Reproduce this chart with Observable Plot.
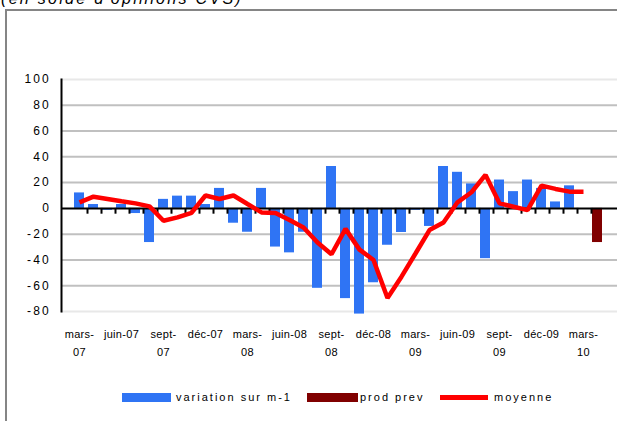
<!DOCTYPE html>
<html><head><meta charset="utf-8">
<script src="https://cdn.jsdelivr.net/npm/d3@7"></script>
<script src="https://cdn.jsdelivr.net/npm/@observablehq/plot@0.6"></script>
<style>
html,body{margin:0;padding:0;background:#fff;overflow:hidden;width:617px;height:421px;}
body{position:relative;font-family:"Liberation Sans",Arial,sans-serif;}
#title{position:absolute;left:1px;top:-10px;font-size:16px;font-style:italic;letter-spacing:2.3px;white-space:nowrap;color:#000;}
#frame{position:absolute;left:5px;top:9px;width:800px;height:600px;border:2px solid #858585;box-sizing:border-box;}
#chart{position:absolute;left:0;top:0;}
.sw{position:absolute;}
.lb{position:absolute;top:390px;height:14px;line-height:14px;font-size:11px;letter-spacing:2px;white-space:nowrap;color:#000;}
</style>
</head><body>
<div id="title">(en solde d'opinions CVS)</div>
<div id="frame"></div>
<div id="chart"></div>
<div class="sw" style="left:122px;top:393px;width:49px;height:9px;background:#2f74f4"></div>
<div class="lb" style="left:176px">variation sur m-1</div>
<div class="sw" style="left:307px;top:393px;width:51px;height:9px;background:#800000"></div>
<div class="lb" style="left:360px">prod prev</div>
<div class="sw" style="left:440px;top:395px;width:48px;height:5px;background:#ff0000"></div>
<div class="lb" style="left:494px">moyenne</div>
<script>
const months = ["mars-07","avr-07","mai-07","juin-07","juil-07","août-07","sept-07","oct-07","nov-07","déc-07",
  "janv-08","févr-08","mars-08","avr-08","mai-08","juin-08","juil-08","août-08","sept-08","oct-08","nov-08","déc-08",
  "janv-09","févr-09","mars-09","avr-09","mai-09","juin-09","juil-09","août-09","sept-09","oct-09","nov-09","déc-09",
  "janv-10","févr-10","mars-10","avr-10"];
const variation = [12, 3, -1.5, 3, -4, -26.5, 7, 9.5, 9.5, 3,
  15.5, -11.5, -18.5, 15.5, -30, -34.5, -18.5, -62, 32.5, -70, -82, -57.7,
  -28.6, -18.7, -1.5, -14, 32.5, 28, 19, -39, 22, 13, 22, 15.5,
  5, 17.5, null, null];
const prodPrev = [null, null, null, null, null, null, null, null, null, null,
  null, null, null, null, null, null, null, null, null, null, null, null,
  null, null, null, null, null, null, null, null, null, null, null, null,
  null, null, null, -26.5];
const moyenne = [4.7, 9.1, 7.3, 5.5, 3.9, 1.6, -9.6, -7, -3.4, 10,
  7.3, 10, 3.4, -3.1, -3.6, -9, -14.8, -26.5, -35.6, -15.9, -32, -40,
  -69.5, -53, -35, -16.8, -10.9, 4.7, 12.5, 26, 3.9, 1.3, -1.3, 17.7,
  15.1, 13, 13, null];
const yTicks = [100, 80, 60, 40, 20, 0, -20, -40, -60, -80];
const gridDark = [80, 60, 40, 20, -20, -40, -60];
const gridLight = [100, -80];
const xTickMonths = ["mars-07","juin-07","sept-07","déc-07","mars-08","juin-08","sept-08","déc-08","mars-09","juin-09","sept-09","déc-09","mars-10"];
const xTickLabels = ["mars-\n07","juin-07","sept-\n07","déc-07","mars-\n08","juin-08","sept-\n08","déc-08","mars-\n09","juin-09","sept-\n09","déc-09","mars-\n10"];

const rows = months.map((m, i) => ({month: m, variation: variation[i], prod: prodPrev[i], moyenne: moyenne[i]}));
const labels = xTickMonths.map((m, i) => ({month: m, label: xTickLabels[i]}));

const chart = Plot.plot({
  width: 617, height: 370,
  marginLeft: 61, marginRight: 0, marginTop: 79, marginBottom: 59,
  style: {fontFamily: "Liberation Sans, Arial, sans-serif", fontSize: "11px", background: "transparent", overflow: "visible", color: "#000"},
  x: {type: "band", domain: months, range: [61, 614], paddingInner: 0.31, paddingOuter: 0.155, axis: null},
  y: {domain: [-80, 100], axis: null},
  marks: [
    Plot.ruleY(gridLight, {y: d => d, stroke: "#e8e8e8", strokeWidth: 2}),
    Plot.ruleY(gridDark, {y: d => d, stroke: "#c0c0c0", strokeWidth: 2}),
    Plot.barY(rows.filter(d => d.variation != null), {x: "month", y: "variation", fill: "#2f74f4"}),
    Plot.barY(rows.filter(d => d.prod != null), {x: "month", y: "prod", fill: "#800000"}),
    Plot.ruleY([0], {stroke: "#000", strokeWidth: 2}),
    Plot.ruleX(months.slice(0, 37), {x: d => d, y1: 0, y2: -4.5, dx: 8, stroke: "#000", strokeWidth: 2}),
    Plot.lineY(rows.filter(d => d.moyenne != null), {x: "month", y: "moyenne", stroke: "#ff0000", strokeWidth: 4.5, strokeLinejoin: "miter", strokeLinecap: "butt"}),
    Plot.frame({anchor: "left", stroke: "#000", strokeWidth: 2}),
    Plot.tickY(yTicks, {y: d => d, x: months[0], stroke: "#000", strokeWidth: 2, insetRight: 4, dx: -8.3}),
    Plot.text(yTicks, {y: d => d, text: d => String(d), frameAnchor: "left", textAnchor: "end", dx: -10.5, fontSize: 12, fill: "#000"}),
    Plot.text(labels, {x: "month", text: "label", frameAnchor: "bottom", lineAnchor: "top", dy: 14, lineHeight: 1.62, fontSize: 11, fill: "#000"})
  ]
});
document.getElementById("chart").appendChild(chart);
const textGroups = chart.querySelectorAll('g[aria-label="text"]');
const spacing = ["2.2px", "0.3px"];
textGroups.forEach((g, k) => {
  g.querySelectorAll("text").forEach(t => { t.setAttribute("letter-spacing", spacing[k] || "0px"); t.style.letterSpacing = spacing[k] || "0px"; });
});
</script>
</body></html>
